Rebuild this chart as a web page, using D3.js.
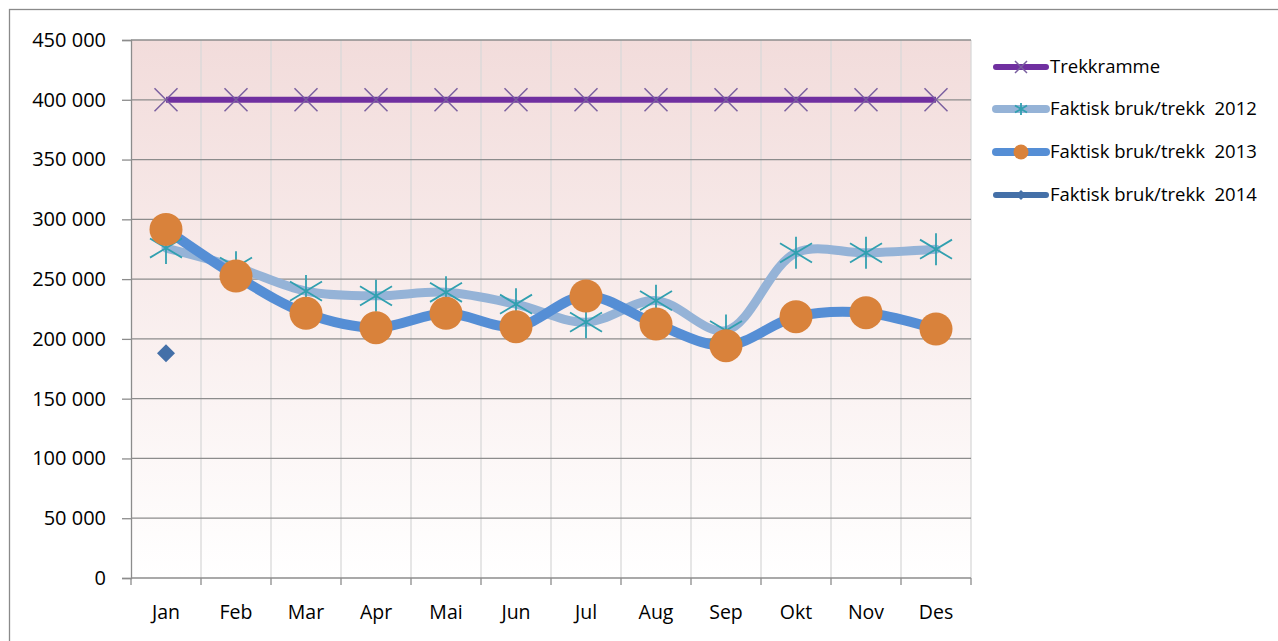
<!DOCTYPE html>
<html>
<head>
<meta charset="utf-8">
<script src="https://cdn.jsdelivr.net/npm/d3@7"></script>
<style>
  body { margin: 0; background: #fff; }
  text { font-family: "Open Sans", "Noto Sans", sans-serif; fill: #000; }
</style>
</head>
<body>
<div id="chart"></div>
<script>
// Data.
const months = ["Jan", "Feb", "Mar", "Apr", "Mai", "Jun", "Jul", "Aug", "Sep", "Okt", "Nov", "Des"];
const trekkramme = [400000, 400000, 400000, 400000, 400000, 400000, 400000, 400000, 400000, 400000, 400000, 400000];
const bruk2012 = [276000, 260000, 240000, 236000, 239000, 229000, 214000, 232000, 207000, 272000, 272000, 275000];
const bruk2013 = [291600, 252600, 221400, 209400, 221400, 210200, 235900, 212400, 194300, 218600, 221900, 208300];
const bruk2014 = [188000];
const yTicks = [0, 50000, 100000, 150000, 200000, 250000, 300000, 350000, 400000, 450000];

const totalWidth = 1278;
const totalHeight = 641;
const plot = {left: 131, top: 40, right: 971, bottom: 578};

const svg = d3.select("#chart").append("svg")
  .attr("width", totalWidth)
  .attr("height", totalHeight);

// Chart frame.
svg.append("rect")
  .attr("x", 9.5).attr("y", 9.5)
  .attr("width", 1290).attr("height", 650)
  .attr("fill", "#fff").attr("stroke", "#8a8a8a").attr("stroke-width", 1.3);

// Background gradient of the plot area.
const grad = svg.append("defs").append("linearGradient")
  .attr("id", "bg").attr("x1", 0).attr("y1", 0).attr("x2", 0).attr("y2", 1);
grad.append("stop").attr("offset", "0%").attr("stop-color", "#f2dcdb");
grad.append("stop").attr("offset", "100%").attr("stop-color", "#ffffff");

const x = d3.scaleBand().domain(months).range([plot.left, plot.right]);
const y = d3.scaleLinear().domain([0, 450000]).range([plot.bottom, plot.top]);
const cx = d => x(d) + x.bandwidth() / 2;

svg.append("rect")
  .attr("x", plot.left).attr("y", plot.top)
  .attr("width", plot.right - plot.left).attr("height", plot.bottom - plot.top)
  .attr("fill", "url(#bg)");

// Vertical gridlines at category boundaries.
svg.append("g").selectAll("line")
  .data(months.slice(1).concat(["_end"]))
  .join("line")
    .attr("x1", (d, i) => plot.left + (i + 1) * x.bandwidth())
    .attr("x2", (d, i) => plot.left + (i + 1) * x.bandwidth())
    .attr("y1", plot.top).attr("y2", plot.bottom)
    .attr("stroke", "#d9d9d9").attr("stroke-width", 1.3);

// Horizontal gridlines.
svg.append("g").selectAll("line")
  .data(yTicks.slice(1))
  .join("line")
    .attr("x1", plot.left).attr("x2", plot.right)
    .attr("y1", d => y(d)).attr("y2", d => y(d))
    .attr("stroke", "#8c8c8c").attr("stroke-width", 1.3);

// Y axis.
const fmt = v => d3.format(",")(v).replace(/,/g, " ");
const yAxis = svg.append("g")
  .attr("transform", `translate(${plot.left}, 0)`)
  .call(d3.axisLeft(y).tickValues(yTicks).tickSize(9).tickPadding(16).tickFormat(fmt));
yAxis.select(".domain").attr("stroke", "#8c8c8c").attr("stroke-width", 1.3);
yAxis.selectAll(".tick line").attr("stroke", "#8c8c8c").attr("stroke-width", 1.3);
yAxis.selectAll(".tick text").style("font-size", "20px").attr("fill", "#000");

// X axis: ticks at category boundaries, labels centered.
const xAxisG = svg.append("g").attr("transform", `translate(0, ${plot.bottom})`);
xAxisG.append("line")
  .attr("x1", plot.left).attr("x2", plot.right)
  .attr("stroke", "#8c8c8c").attr("stroke-width", 1.3);
xAxisG.selectAll("line.tk")
  .data(d3.range(months.length + 1))
  .join("line").attr("class", "tk")
    .attr("x1", i => plot.left + i * x.bandwidth())
    .attr("x2", i => plot.left + i * x.bandwidth())
    .attr("y1", 0).attr("y2", 7)
    .attr("stroke", "#8c8c8c").attr("stroke-width", 1.3);
xAxisG.selectAll("text")
  .data(months)
  .join("text")
    .attr("x", d => cx(d))
    .attr("y", 41)
    .attr("text-anchor", "middle")
    .style("font-size", "19.5px")
    .text(d => d);

// Smoothed lines.
const line = d3.line()
  .x((d, i) => cx(months[i]))
  .y(d => y(d))
  .curve(d3.curveCatmullRom.alpha(0.5));

const crossPath = s => `M${-s},${-s}L${s},${s}M${-s},${s}L${s},${-s}`;
const starPath = s => `M${-s},${-s * 0.6}L${s},${s * 0.6}M${-s},${s * 0.6}L${s},${-s * 0.6}M0,${-s}L0,${s}`;

// 2012
svg.append("path").datum(bruk2012)
  .attr("d", line).attr("fill", "none")
  .attr("stroke", "#95b3d7").attr("stroke-width", 9).attr("stroke-linecap", "round");
// 2013
svg.append("path").datum(bruk2013)
  .attr("d", line).attr("fill", "none")
  .attr("stroke", "#558ed5").attr("stroke-width", 10).attr("stroke-linecap", "round");
// Trekkramme
svg.append("path").datum(trekkramme)
  .attr("d", line).attr("fill", "none")
  .attr("stroke", "#7030a0").attr("stroke-width", 6);

// Markers
svg.append("g").selectAll("path")
  .data(trekkramme)
  .join("path")
    .attr("transform", (d, i) => `translate(${cx(months[i])}, ${y(d)})`)
    .attr("d", crossPath(11.5))
    .attr("stroke", "#7a5fa0").attr("stroke-width", 1.5).attr("fill", "none");

svg.append("g").selectAll("path")
  .data(bruk2012)
  .join("path")
    .attr("transform", (d, i) => `translate(${cx(months[i])}, ${y(d)})`)
    .attr("d", starPath(16))
    .attr("stroke", "#31a0b0").attr("stroke-width", 1.8).attr("fill", "none");

svg.append("g").selectAll("circle")
  .data(bruk2013)
  .join("circle")
    .attr("cx", (d, i) => cx(months[i]))
    .attr("cy", d => y(d))
    .attr("r", 16.5)
    .attr("fill", "#d9823b");

svg.append("g").selectAll("path")
  .data(bruk2014)
  .join("path")
    .attr("transform", (d, i) => `translate(${cx(months[i])}, ${y(d)})`)
    .attr("d", "M0,-9L9,0L0,9L-9,0Z")
    .attr("fill", "#4470a8");

// Legend
const legendItems = [
  {name: "Trekkramme", color: "#7030a0", width: 6, marker: "cross", mcolor: "#7a5fa0"},
  {name: "Faktisk bruk/trekk  2012", color: "#95b3d7", width: 8, marker: "star", mcolor: "#31a0b0"},
  {name: "Faktisk bruk/trekk  2013", color: "#558ed5", width: 8, marker: "circle", mcolor: "#d9823b"},
  {name: "Faktisk bruk/trekk  2014", color: "#4470a8", width: 6, marker: "diamond", mcolor: "#4470a8"}
];
const legendY = [67, 109, 152, 195];

const lg = svg.append("g").selectAll("g")
  .data(legendItems)
  .join("g")
    .attr("transform", (d, i) => `translate(996, ${legendY[i]})`);
lg.append("line")
  .attr("x1", 0).attr("x2", 50)
  .attr("stroke", d => d.color).attr("stroke-width", d => d.width).attr("stroke-linecap", "round");
lg.each(function(d) {
  const g = d3.select(this);
  if (d.marker === "cross") {
    g.append("path").attr("transform", "translate(25,0)").attr("d", crossPath(6))
      .attr("stroke", d.mcolor).attr("stroke-width", 1.5).attr("fill", "none");
  } else if (d.marker === "star") {
    g.append("path").attr("transform", "translate(25,0)").attr("d", starPath(6))
      .attr("stroke", d.mcolor).attr("stroke-width", 1.8).attr("fill", "none");
  } else if (d.marker === "circle") {
    g.append("circle").attr("cx", 25).attr("r", 7.5).attr("fill", d.mcolor);
  } else {
    g.append("path").attr("transform", "translate(25,0)").attr("d", "M0,-5L5,0L0,5L-5,0Z").attr("fill", d.mcolor);
  }
});
lg.append("text")
  .attr("x", 54).attr("y", 0).attr("dy", "0.35em")
  .style("font-size", "18.5px")
  .style("white-space", "pre")
  .attr("xml:space", "preserve")
  .text(d => d.name);
</script>
</body>
</html>
